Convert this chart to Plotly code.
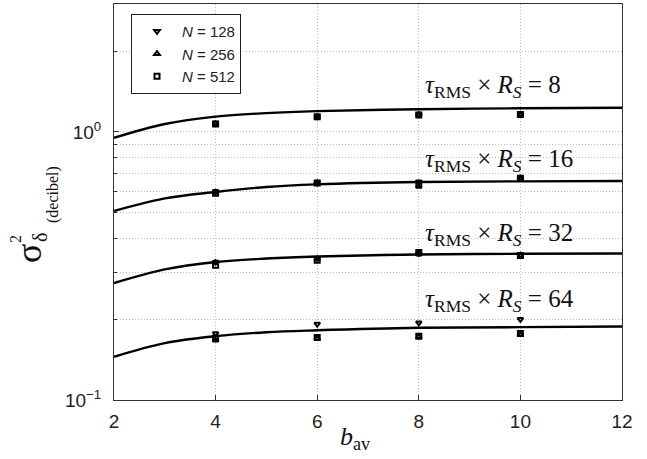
import plotly.graph_objects as go

# ---------------- data ----------------
b_curve = [2, 3, 4, 5, 6, 8, 10, 12]
curve_8 = [0.95, 1.07, 1.14, 1.175, 1.195, 1.215, 1.225, 1.23]
curve_16 = [0.507, 0.565, 0.597, 0.623, 0.637, 0.650, 0.654, 0.656]
curve_32 = [0.273, 0.307, 0.327, 0.337, 0.343, 0.349, 0.351, 0.352]
curve_64 = [0.145, 0.163, 0.173, 0.179, 0.182, 0.186, 0.187, 0.188]

b_sim = [4, 6, 8, 10]
n128 = {8: [1.08, 1.14, 1.16, 1.165], 16: [0.600, 0.645, 0.652, 0.672],
        32: [0.327, 0.338, 0.352, 0.347], 64: [0.177, 0.192, 0.194, 0.200]}
n256 = {8: [1.07, 1.135, 1.16, 1.16], 16: [0.595, 0.645, 0.625, 0.672],
        32: [0.325, 0.336, 0.350, 0.346], 64: [0.167, 0.170, 0.172, 0.175]}
n512 = {8: [1.07, 1.14, 1.155, 1.16], 16: [0.590, 0.645, 0.640, 0.672],
        32: [0.318, 0.332, 0.355, 0.346], 64: [0.170, 0.171, 0.173, 0.177]}

tau_values = [8, 16, 32, 64]
curves = [curve_8, curve_16, curve_32, curve_64]
x_ticks = [2, 4, 6, 8, 10, 12]
y_ticks = [0.1, 1]
y_ticktext = ["10<sup>\u22121</sup>", "10<sup>0</sup>"]
y_minor = [0.2, 0.3, 0.4, 0.5, 0.6, 0.7, 0.8, 0.9, 2, 3]

# ---------------- figure ----------------
W, H = 647, 459
L, R, T, B = 114, 622, 4, 400
GRID = "#bdbdbd"
DASH = "1px,2px"


def px(x, y):
    return (x - L) / (R - L), (B - y) / (B - T)


fig = go.Figure()
for c in curves:
    fig.add_trace(go.Scatter(x=b_curve, y=c, mode="lines", line=dict(color="black", width=2.4, shape="spline"),
                             showlegend=False, hoverinfo="skip"))

series = [("<i>N</i> = 128", n128, "triangle-down-open"),
          ("<i>N</i> = 256", n256, "triangle-up-open"),
          ("<i>N</i> = 512", n512, "square-open")]
for name, data, sym in series:
    first = True
    for tau in tau_values:
        fig.add_trace(go.Scatter(x=b_sim, y=data[tau], mode="markers", name=name,
                                 legendgroup=name, showlegend=first,
                                 marker=dict(symbol=sym, size=5, color="black",
                                             line=dict(color="black", width=2))))
        first = False

ann = []
label_y = {8: 86, 16: 160, 32: 234, 64: 300}
for tau in tau_values:
    ax, ay = px(423, label_y[tau])
    ann.append(dict(x=ax, y=ay, xref="paper", yref="paper", xanchor="left", yanchor="middle",
                    showarrow=False,
                    text="<i>\u03c4</i><sub>RMS</sub> \u00d7 <i>R</i><sub><i>S</i></sub> = %d" % tau,
                    font=dict(family="Liberation Serif", size=25, color="#111")))

# x axis title
ax, ay = px(355, 438)
ann.append(dict(x=ax, y=ay, xref="paper", yref="paper", showarrow=False, xanchor="center", yanchor="middle",
                text="<i>b</i><sub>av</sub>", font=dict(family="Liberation Serif", size=26, color="#111")))
# y axis title pieces (rotated)
for (xx, yy, txt, sz) in [(29, 254, "\u03c3", 36), (15, 239, "2", 16), (40, 238, "\u03b4", 20),
                          (53, 195, "(decibel)", 16)]:
    ax, ay = px(xx, yy)
    ann.append(dict(x=ax, y=ay, xref="paper", yref="paper", showarrow=False, textangle=-90,
                    xanchor="center", yanchor="middle",
                    text=txt, font=dict(family="Liberation Serif", size=sz, color="#111")))

lx, ly = px(131, 14)
fig.update_layout(
    width=W, height=H,
    margin=dict(l=L, r=W - R, t=T, b=H - B),
    plot_bgcolor="white", paper_bgcolor="white",
    font=dict(family="Liberation Sans", size=18, color="#222"),
    annotations=ann,
    legend=dict(x=lx, y=ly, xanchor="left", yanchor="top", bgcolor="white",
                bordercolor="#222", borderwidth=1, font=dict(size=15, family="Liberation Sans", color="#222"),
                itemwidth=40, tracegroupgap=0),
    xaxis=dict(range=[2, 12], tickvals=x_ticks, showgrid=True, gridcolor=GRID, griddash=DASH,
               gridwidth=1, showline=True, linecolor="#333", linewidth=1, mirror=True,
               ticks="inside", ticklen=5, tickcolor="#333", zeroline=False,
               tickfont=dict(size=19, family="Liberation Sans", color="#222"), ticklabelstandoff=4),
    yaxis=dict(type="log", range=[-1, 0.477], tickvals=y_ticks, ticktext=y_ticktext,
               showgrid=True, gridcolor=GRID, griddash=DASH, gridwidth=1,
               showline=True, linecolor="#333", linewidth=1, mirror=True,
               ticks="inside", ticklen=5, tickcolor="#333", zeroline=False,
               tickfont=dict(size=19, family="Liberation Sans", color="#222"), ticklabelstandoff=8,
               minor=dict(tickvals=y_minor, showgrid=True, gridcolor=GRID, griddash=DASH,
                          ticks="inside", ticklen=3, tickcolor="#333")),
)

fig.write_html("out.html")
